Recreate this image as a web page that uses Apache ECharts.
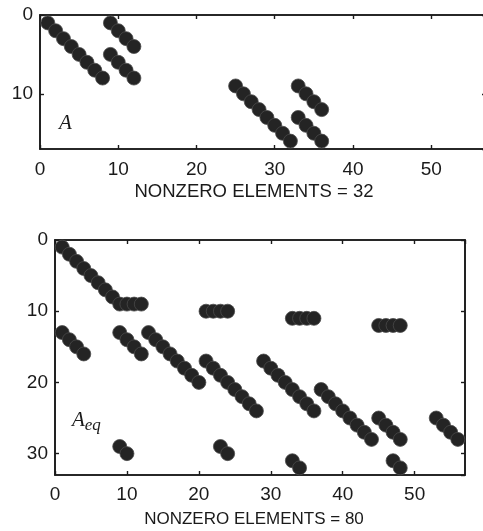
<!DOCTYPE html>
<head>
    <meta charset="utf-8"/>
    <style>
        html,body { height:100%; width:100%; margin:0; padding:0; background:#fff; }
    </style>
</head>
<body>
<div id="spy" style="width:483px;height:531px"></div>
<script src="https://cdn.jsdelivr.net/npm/echarts@6/dist/echarts.min.js"></script>
<script type="text/javascript">

 // nonzero positions [column, row]
 var spyA = [
     [1,1],[2,2],[3,3],[4,4],[5,5],[6,6],[7,7],[8,8],
     [9,1],[10,2],[11,3],[12,4],
     [9,5],[10,6],[11,7],[12,8],
     [25,9],[26,10],[27,11],[28,12],[29,13],[30,14],[31,15],[32,16],
     [33,9],[34,10],[35,11],[36,12],
     [33,13],[34,14],[35,15],[36,16]
 ];
 var spyAeq = [
     [1,1],[2,2],[3,3],[4,4],[5,5],[6,6],[7,7],[8,8],
     [9,9],[10,9],[11,9],[12,9],
     [21,10],[22,10],[23,10],[24,10],
     [33,11],[34,11],[35,11],[36,11],
     [45,12],[46,12],[47,12],[48,12],
     [1,13],[2,14],[3,15],[4,16],
     [9,13],[10,14],[11,15],[12,16],
     [13,13],[14,14],[15,15],[16,16],[17,17],[18,18],[19,19],[20,20],
     [21,17],[22,18],[23,19],[24,20],[25,21],[26,22],[27,23],[28,24],
     [29,17],[30,18],[31,19],[32,20],[33,21],[34,22],[35,23],[36,24],
     [37,21],[38,22],[39,23],[40,24],[41,25],[42,26],[43,27],[44,28],
     [45,25],[46,26],[47,27],[48,28],
     [53,25],[54,26],[55,27],[56,28],
     [9,29],[10,30],[23,29],[24,30],
     [33,31],[34,32],[47,31],[48,32]
 ];
 var colCount = 57;
 var rowsA = 17;
 var rowsAeq = 33;

 var ink = '#1a1a1a';
 var font = 'Liberation Sans, Arial, sans-serif';

 function xAx(grid, pos, max, name) {
     var top = grid == 0;
     return {
         type: 'value', gridIndex: grid, position: pos, min: 0, max: max, interval: 10,
         axisLine: { show: true, onZero: false, lineStyle: { color: ink, width: 1.6 } },
         axisTick: { show: true, inside: true, length: 4, lineStyle: { color: ink, width: 1.4 } },
         axisLabel: { show: pos == 'bottom', color: ink, fontSize: 19, fontFamily: font,
             margin: top ? 11 : 10, showMaxLabel: false },
         splitLine: { show: false },
         name: pos == 'bottom' ? name : '',
         nameLocation: 'middle',
         nameGap: top ? 33 : 36,
         nameTextStyle: { color: ink, fontSize: top ? 18.5 : 17, fontFamily: font,
             padding: top ? [0, 18, 0, 0] : [0, 12, 0, 0] }
     };
 }
 function yAx(grid, pos, max) {
     return {
         type: 'value', gridIndex: grid, position: pos, min: 0, max: max, interval: 10, inverse: true,
         axisLine: { show: true, onZero: false, lineStyle: { color: ink, width: 1.6 } },
         axisTick: { show: true, inside: true, length: 4, lineStyle: { color: ink, width: 1.4 } },
         axisLabel: { show: pos == 'left', color: ink, fontSize: 19, fontFamily: font, margin: 7,
             showMaxLabel: false },
         splitLine: { show: false }
     };
 }
 function dots(xi, yi, data, size) {
     return {
         type: 'scatter', xAxisIndex: xi, yAxisIndex: yi, data: data,
         symbol: 'circle', symbolSize: size, silent: true,
         itemStyle: { color: '#242424', borderColor: '#4a4a4a', borderWidth: 0.8, opacity: 1 }
     };
 }

 var spyChart = echarts.init(document.getElementById('spy'), null, { renderer: 'canvas' });
 spyChart.setOption({
     animation: false,
     backgroundColor: '#fff',
     grid: [
         { left: 40, top: 15, width: 446, height: 134, outerBoundsMode: 'none',
           show: true, borderColor: ink, borderWidth: 1.6 },
         { left: 55, top: 240, width: 410, height: 235, outerBoundsMode: 'none',
           show: true, borderColor: ink, borderWidth: 1.6 }
     ],
     xAxis: [
         xAx(0, 'bottom', colCount, 'NONZERO ELEMENTS = ' + spyA.length),
         xAx(0, 'top', colCount, ''),
         xAx(1, 'bottom', colCount, 'NONZERO ELEMENTS = ' + spyAeq.length),
         xAx(1, 'top', colCount, '')
     ],
     yAxis: [
         yAx(0, 'left', rowsA),
         yAx(0, 'right', rowsA),
         yAx(1, 'left', rowsAeq),
         yAx(1, 'right', rowsAeq)
     ],
     series: [
         dots(0, 0, spyA, 14),
         dots(2, 2, spyAeq, 14)
     ],
     graphic: [
         { type: 'text', left: 59, top: 113,
           style: { text: 'A', font: 'italic 21px "Liberation Serif", "Times New Roman", serif', fill: ink } },
         { type: 'text', left: 72, top: 410,
           style: { text: '{a|A}{s|eq}', fill: ink,
               rich: {
                   a: { font: 'italic 21px "Liberation Serif", serif', fill: ink },
                   s: { font: 'italic 17px "Liberation Serif", serif', fill: ink, padding: [10, 0, 0, 0] }
               } } }
     ]
 });
</script>
</body>
